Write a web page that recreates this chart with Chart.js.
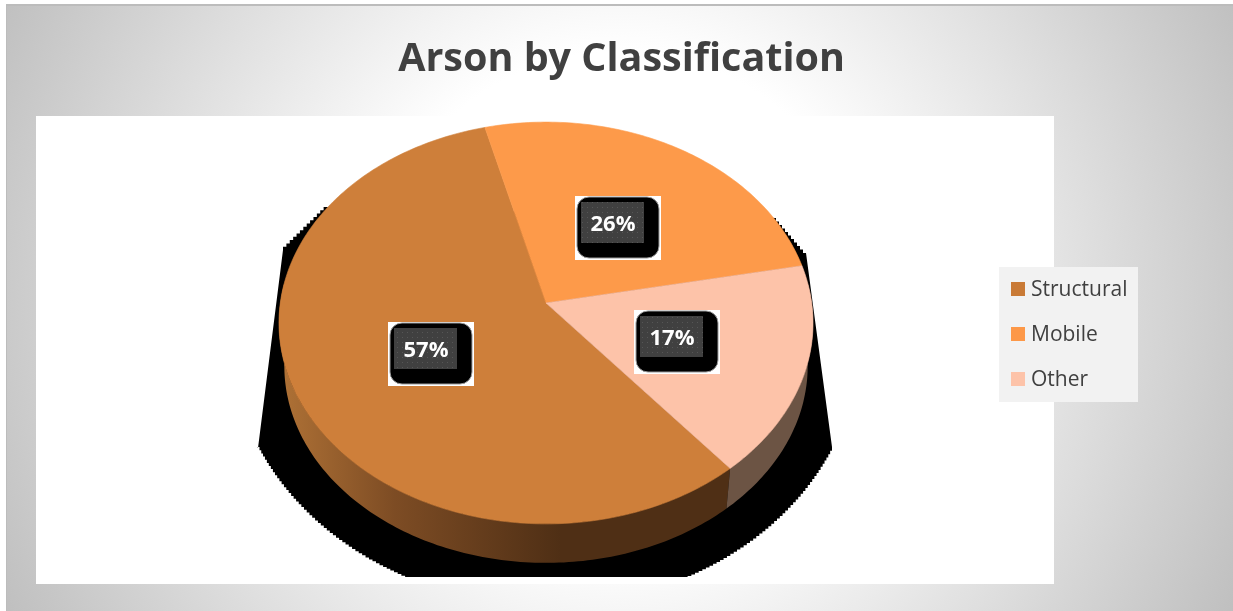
<!DOCTYPE html>
<html>
<head>
<meta charset="utf-8">
<title>Arson by Classification</title>
<script src="https://cdn.jsdelivr.net/npm/chart.js@4"></script>
<style>
    html, body { margin: 0; padding: 0; background: #fff; }
    canvas { display: block; }
</style>
</head>
<body>
<canvas id="pieChart" width="1233" height="611"></canvas>
<script>
// Data
const categories = ['Structural', 'Mobile', 'Other'];
const shares = [57, 26, 17];
const sliceColors = ['#ce7f3a', '#fd9a4a', '#fdc3a9'];
const legendColors = ['#c97a36', '#fd9848', '#fdc3a9'];
const chartTitle = 'Arson by Classification';

// Fake 3D camera: the pie is a circle seen through a small perspective
const CX = 546, CY = 303, RX = 265.7, RY = 198.9, PERSP = 0.0995;
const DEPTH_Y = 43.4, DEPTH_SCALE = 0.98;
const FONT = '"Open Sans", sans-serif';

function project(angle, r, lower) {
    const u = r * Math.cos(angle);
    const v = r * Math.sin(angle);
    const w = 1 - PERSP * v;
    const s = lower ? DEPTH_SCALE : 1;
    return {
        x: CX + RX * s * u / w,
        y: CY + (lower ? DEPTH_Y : 0) + RY * s * v / w
    };
}

function traceRim(ctx, from, to, lower) {
    const steps = Math.max(2, Math.ceil(Math.abs(to - from) * 60));
    for (let i = 0; i <= steps; i++) {
        const p = project(from + (to - from) * i / steps, 1, lower);
        ctx.lineTo(p.x, p.y);
    }
}

// Rough stair edge, the blob behind the pie is not smooth
function stairTo(ctx, pos, x, y) {
    const n = Math.ceil(Math.hypot(x - pos.x, y - pos.y) / 5);
    for (let i = 1; i <= n; i++) {
        const nx = pos.x + (x - pos.x) * i / n;
        const ny = pos.y + (y - pos.y) * i / n;
        ctx.lineTo(nx, pos.y + (y - pos.y) * (i - 1) / n);
        ctx.lineTo(nx, ny);
    }
    pos.x = x;
    pos.y = y;
}

// The black blob behind the pie
function drawShadow(ctx) {
    const ex = 545, ey = 340, ea = 314, eb = 265, floor = 577;
    ctx.save();
    ctx.beginPath();
    ctx.rect(0, 0, 1233, floor);
    ctx.clip();
    ctx.fillStyle = '#000';
    ctx.beginPath();
    ctx.moveTo(327, 207);
    const pos = { x: 327, y: 207 };
    stairTo(ctx, pos, 283, 250);
    ctx.lineTo(258, 448);
    pos.x = 258;
    pos.y = 448;
    const a0 = Math.asin(107 / eb);
    for (let t = Math.PI - a0; t >= a0; t -= 0.04) {
        stairTo(ctx, pos, ex + ea * Math.cos(t), ey + eb * Math.sin(t));
    }
    stairTo(ctx, pos, 832, 447);
    ctx.lineTo(806, 253);
    pos.x = 806;
    pos.y = 253;
    stairTo(ctx, pos, 776, 218);
    ctx.closePath();
    ctx.fill();
    ctx.restore();
}

function sideFill(ctx, index) {
    if (index === 0) {
        const g = ctx.createLinearGradient(285, 0, 560, 0);
        g.addColorStop(0, '#ad7035');
        g.addColorStop(0.4, '#7d4c24');
        g.addColorStop(1, '#4f2f15');
        return g;
    }
    return index === 2 ? '#6c5444' : '#7a4a22';
}

function drawSides(ctx, arcs) {
    const minA = -0.1, maxA = Math.PI + 0.1;
    arcs.forEach((arc, i) => {
        // library angles keep growing past a full turn, bring them back
        let start = arc.startAngle, end = arc.endAngle;
        if (start > maxA) {
            start -= Math.PI * 2;
            end -= Math.PI * 2;
        }
        const from = Math.max(start, minA);
        const to = Math.min(end, maxA);
        if (to <= from) return;
        ctx.beginPath();
        const p0 = project(from, 1, false);
        ctx.moveTo(p0.x, p0.y);
        traceRim(ctx, from, to, false);
        traceRim(ctx, to, from, true);
        ctx.closePath();
        ctx.fillStyle = sideFill(ctx, i);
        ctx.fill();
    });
}

function drawTops(ctx, arcs) {
    arcs.forEach((arc, i) => {
        ctx.beginPath();
        ctx.moveTo(CX, CY);
        traceRim(ctx, arc.startAngle, arc.endAngle, false);
        ctx.closePath();
        ctx.fillStyle = sliceColors[i];
        ctx.fill();
        ctx.strokeStyle = sliceColors[i];
        ctx.lineWidth = 0.6;
        ctx.stroke();
    });
}

function dotPattern(ctx) {
    const tile = document.createElement('canvas');
    tile.width = tile.height = 5;
    const t = tile.getContext('2d');
    t.fillStyle = '#404040';
    t.fillRect(0, 0, 5, 5);
    t.fillStyle = '#565656';
    t.fillRect(2, 2, 1, 1);
    return ctx.createPattern(tile, 'repeat');
}

// Percent badge, placed half way out along the middle of its slice
function drawBadge(ctx, arc, value, total, pattern) {
    const mid = project((arc.startAngle + arc.endAngle) / 2, 0.495, false);
    const x = Math.round(mid.x) - 1, y = Math.round(mid.y) - 1;
    ctx.fillStyle = '#fff';
    ctx.fillRect(x - 37, y - 26, 86, 64);
    ctx.beginPath();
    ctx.roundRect(x - 35, y - 25, 82, 61, 12);
    ctx.fillStyle = '#000';
    ctx.fill();
    ctx.strokeStyle = '#999';
    ctx.lineWidth = 1;
    ctx.stroke();
    ctx.fillStyle = pattern;
    ctx.fillRect(x - 31, y - 20, 63, 41);
    ctx.fillStyle = '#fff';
    ctx.font = '700 22px ' + FONT;
    ctx.textAlign = 'center';
    ctx.textBaseline = 'middle';
    ctx.fillText(Math.round(value / total * 100) + '%', x + 1, y + 3);
}

function drawLegend(ctx) {
    ctx.fillStyle = '#f2f2f2';
    ctx.fillRect(999, 267, 139, 135);
    ctx.font = '21px ' + FONT;
    ctx.textAlign = 'left';
    ctx.textBaseline = 'middle';
    categories.forEach((name, i) => {
        const y = 289 + i * 45;
        ctx.fillStyle = legendColors[i];
        ctx.fillRect(1011, y - 7, 14, 14);
        ctx.fillStyle = '#404040';
        ctx.fillText(name, 1031, y + 1);
    });
}

const scenePlugin = {
    id: 'scene',
    beforeDraw(chart) {
        const ctx = chart.ctx;
        ctx.save();
        ctx.fillStyle = '#fff';
        ctx.fillRect(0, 0, 1233, 611);
        const g = ctx.createRadialGradient(620, 300, 0, 620, 300, 690);
        g.addColorStop(0, '#ffffff');
        g.addColorStop(0.36, '#ffffff');
        g.addColorStop(1, '#bfbfbf');
        ctx.fillStyle = g;
        ctx.fillRect(6, 4, 1227, 607);
        ctx.fillStyle = '#bcbcbc';
        ctx.fillRect(6, 4, 1227, 2);
        ctx.fillRect(6, 4, 1, 607);
        ctx.fillStyle = '#fff';
        ctx.fillRect(36, 116, 1018, 468);
        ctx.restore();
    },
    beforeDatasetDraw(chart, args) {
        const ctx = chart.ctx;
        const arcs = args.meta.data;
        ctx.save();
        drawShadow(ctx);
        drawSides(ctx, arcs);
        drawTops(ctx, arcs);
        ctx.restore();
        return false; // the slices are drawn above, in perspective
    },
    afterDraw(chart) {
        const ctx = chart.ctx;
        const arcs = chart.getDatasetMeta(0).data;
        const total = shares.reduce((a, b) => a + b, 0);
        const pattern = dotPattern(ctx);
        ctx.save();
        arcs.forEach((arc, i) => drawBadge(ctx, arc, shares[i], total, pattern));
        drawLegend(ctx);
        ctx.restore();
    }
};

new Chart(document.getElementById('pieChart'), {
    type: 'pie',
    data: {
        labels: categories,
        datasets: [{ data: shares, backgroundColor: sliceColors, borderWidth: 0 }]
    },
    options: {
        responsive: false,
        animation: false,
        rotation: 140.2,
        layout: { padding: { left: 10, top: 36, right: 0, bottom: 20 } },
        plugins: {
            legend: { display: false },
            tooltip: { enabled: false },
            title: {
                display: true,
                text: chartTitle,
                color: '#404040',
                font: { family: FONT, size: 39.5, weight: '700' },
                padding: 0
            }
        }
    },
    plugins: [scenePlugin]
});
</script>
</body>
</html>
